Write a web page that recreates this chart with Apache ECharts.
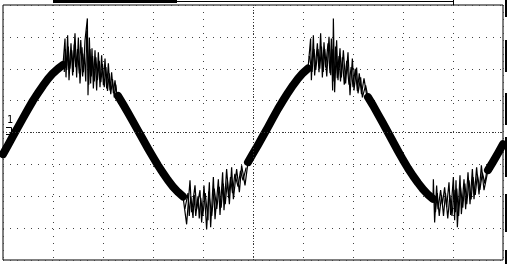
<!DOCTYPE html>
<html>
<head>
<meta charset="utf-8">
<script src="https://cdn.jsdelivr.net/npm/echarts@6/dist/echarts.min.js"></script>
<style>html,body{margin:0;padding:0;background:#fff}#c{width:508px;height:264px}</style>
</head>
<body>
<div id="c"></div>
<script>
// Time axis: 0..40 ms (4 ms/div), voltage axis: -400..400 V (100 V/div)
const bandStep = 0.4; // ms between band samples
const bandV = [
  -68, -40, -11, 17, 45, 73, 100, 124, 147, 168, 186, 200, 212,
  null, null, null, null, null, null, null, null, null, null,
  115, 89, 62, 34, 6, -22, -50, -77, -103, -127, -150, -170, -187, -201,
  null, null, null, null, null, null, null, null, null, null, null, null,
  -93, -66, -39, -11, 17, 46, 74, 100, 125, 148, 169, 187, 201,
  null, null, null, null, null, null, null, null, null, null, null,
  111, 85, 57, 29, 0, -29, -58, -86, -112, -136, -158, -178, -195, -208,
  null, null, null, null, null, null, null, null, null, null,
  -118, -92, -65, -37
];
// main noise traces (large spikes)
const noise1T = [4.8, 4.96, 5.04, 5.17, 5.28, 5.44, 5.57, 5.76, 5.89, 6.03, 6.16, 6.32, 6.43, 6.56, 6.75, 6.8, 6.91, 7.01, 7.12, 7.23, 7.36, 7.49, 7.63, 7.76, 7.89, 8.03, 8.16, 8.29, 8.43, 8.56, 8.69, 8.83, 8.96, 9.09, 9.2];
const noise1V = [212, 295, 173, 305, 164, 280, 179, 311, 173, 298, 154, 267, 189, 289, 358, 117, 298, 154, 264, 138, 258, 132, 252, 142, 242, 148, 232, 138, 217, 132, 189, 123, 164, 117, 115];
const noise2T = [14.4, 14.69, 14.96, 15.09, 15.36, 15.49, 15.76, 15.89, 16.08, 16.29, 16.51, 16.61, 16.83, 16.96, 17.23, 17.36, 17.57, 17.68, 17.89, 18.11, 18.29, 18.43, 18.69, 18.91, 19.09, 19.36, 19.6];
const noise2V = [-201, -288, -150, -250, -166, -241, -181, -282, -166, -304, -156, -297, -140, -272, -147, -259, -125, -244, -115, -225, -109, -209, -115, -187, -103, -166, -93];
const noise3T = [24.4, 24.61, 24.67, 24.83, 24.93, 25.15, 25.28, 25.41, 25.55, 25.68, 25.81, 26.0, 26.16, 26.27, 26.37, 26.43, 26.53, 26.69, 26.8, 26.96, 27.07, 27.23, 27.41, 27.6, 27.76, 27.95, 28.08, 28.29, 28.4, 28.61, 28.75, 29.01, 29.2];
const noise3V = [201, 295, 164, 305, 179, 280, 189, 311, 173, 283, 204, 280, 186, 295, 132, 358, 126, 289, 164, 264, 173, 258, 154, 252, 117, 232, 132, 204, 123, 173, 110, 148, 111];
const noise4T = [34.4, 34.43, 34.53, 34.69, 34.8, 35.01, 35.15, 35.33, 35.49, 35.68, 35.81, 36.03, 36.13, 36.24, 36.35, 36.56, 36.67, 36.88, 37.01, 37.2, 37.36, 37.55, 37.68, 37.89, 38.08, 38.27, 38.48, 38.8];
const noise4V = [-208, -147, -282, -166, -241, -181, -225, -172, -234, -156, -259, -140, -275, -150, -297, -134, -256, -147, -241, -125, -225, -115, -209, -109, -194, -103, -181, -118];
// secondary noise traces (smaller spikes filling the bursts)
const fill1T = [4.9, 4.99, 5.1, 5.22, 5.35, 5.5, 5.63, 5.7, 5.82, 5.96, 6.1, 6.22, 6.37, 6.5, 6.62, 6.7, 6.86, 6.96, 7.06, 7.17, 7.3, 7.43, 7.56, 7.7, 7.83, 7.96, 8.1, 8.23, 8.36, 8.5, 8.62, 8.76, 8.9, 9.02, 9.15];
const fill1V = [190, 262, 196, 270, 200, 258, 190, 276, 205, 262, 185, 290, 176, 248, 160, 320, 150, 262, 176, 240, 160, 236, 164, 225, 158, 215, 142, 205, 130, 186, 120, 168, 110, 150, 105];
const fill2T = [14.55, 14.8, 14.9, 15.02, 15.2, 15.3, 15.42, 15.6, 15.7, 15.82, 15.98, 16.18, 16.4, 16.45, 16.7, 16.9, 17.1, 17.3, 17.45, 17.62, 17.78, 17.95, 18.05, 18.2, 18.36, 18.55, 18.8, 19.0, 19.2, 19.45];
const fill2V = [-240, -190, -262, -200, -268, -196, -262, -200, -270, -205, -262, -190, -275, -185, -262, -176, -240, -170, -236, -160, -225, -150, -205, -140, -190, -130, -170, -120, -150, -110];
const fill3T = [24.5, 24.72, 24.88, 25.02, 25.2, 25.34, 25.48, 25.62, 25.74, 25.9, 26.08, 26.22, 26.32, 26.48, 26.6, 26.74, 26.88, 27.0, 27.15, 27.3, 27.5, 27.68, 27.85, 28.0, 28.18, 28.35, 28.5, 28.68, 28.88, 29.1];
const fill3V = [240, 190, 262, 196, 262, 200, 270, 190, 262, 176, 300, 180, 262, 160, 270, 170, 240, 160, 236, 150, 225, 150, 205, 142, 200, 130, 186, 120, 170, 115];
const fill4T = [34.48, 34.6, 34.74, 34.9, 35.08, 35.24, 35.4, 35.58, 35.75, 35.92, 36.08, 36.2, 36.3, 36.45, 36.6, 36.78, 36.95, 37.1, 37.28, 37.45, 37.6, 37.78, 37.95, 38.15, 38.35, 38.55, 38.7];
const fill4V = [-200, -250, -190, -262, -196, -262, -190, -270, -196, -262, -180, -250, -176, -262, -170, -236, -160, -225, -150, -210, -140, -196, -132, -180, -126, -160, -120];
const xMin = 0, xMax = 40, xDiv = 4;
const yMin = -400, yMax = 400, yDiv = 100;
const channelLabel = '1';

const bandData = bandV.map((v, i) => [+(i * bandStep).toFixed(2), v]);
const pair = (T, V) => T.map((t, i) => [t, V[i]]);

const chart = echarts.init(document.getElementById('c'), null, {renderer: 'canvas'});
const noiseSeries = [
  [noise1T, noise1V], [noise2T, noise2V], [noise3T, noise3V], [noise4T, noise4V],
  [fill1T, fill1V], [fill2T, fill2V], [fill3T, fill3V], [fill4T, fill4V]
].map(([T, V]) => ({
  type: 'line', data: pair(T, V), symbol: 'none', animation: false,
  lineStyle: {color: '#000', width: 1.2}, z: 4
}));
const rightBars = [[0, 17], [40, 72], [93, 125], [137, 177], [194, 232], [250, 264]];
chart.setOption({
  backgroundColor: '#fff',
  animation: false,
  grid: {left: 3, top: 5, right: 5, bottom: 4, show: true, borderColor: '#000', borderWidth: 1, backgroundColor: '#fff'},
  xAxis: {
    type: 'value', min: xMin, max: xMax, interval: xDiv,
    axisLine: {show: false}, axisTick: {show: false}, axisLabel: {show: false},
    splitLine: {show: true, lineStyle: {color: '#444', width: 1, type: [1, 6]}}
  },
  yAxis: {
    type: 'value', min: yMin, max: yMax, interval: yDiv,
    axisLine: {show: false}, axisTick: {show: false}, axisLabel: {show: false},
    splitLine: {show: true, lineStyle: {color: '#444', width: 1, type: [1, 6]}}
  },
  series: [
    {
      type: 'line', data: bandData, symbol: 'none', connectNulls: false,
      lineStyle: {color: '#000', width: 8, join: 'round', cap: 'round'}, z: 3,
      markLine: {
        silent: true, symbol: 'none', label: {show: false},
        lineStyle: {color: '#333', width: 1, type: [1, 2]},
        data: [{xAxis: (xMin + xMax) / 2}, {yAxis: 0}]
      }
    },
    ...noiseSeries
  ],
  graphic: [
    {type: 'rect', shape: {x: 53, y: 0, width: 124, height: 3}, style: {fill: '#000'}},
    {type: 'line', shape: {x1: 177, y1: 1.5, x2: 453, y2: 1.5}, style: {stroke: '#000', lineWidth: 1}},
    {type: 'line', shape: {x1: 453.5, y1: 0, x2: 453.5, y2: 5}, style: {stroke: '#000', lineWidth: 1}},
    ...rightBars.map(([a, b]) => ({type: 'rect', shape: {x: 505, y: a, width: 2, height: b - a}, style: {fill: '#000'}})),
    {type: 'text', left: 7, top: 115, style: {text: channelLabel, font: '10px "DejaVu Sans Mono"', fill: '#000'}},
    {type: 'polyline', shape: {points: [[6, 127.5], [11.5, 127.5], [11.5, 134.5], [6, 134.5]]}, style: {stroke: '#000', lineWidth: 1, fill: 'none'}}
  ]
});
</script>
</body>
</html>
